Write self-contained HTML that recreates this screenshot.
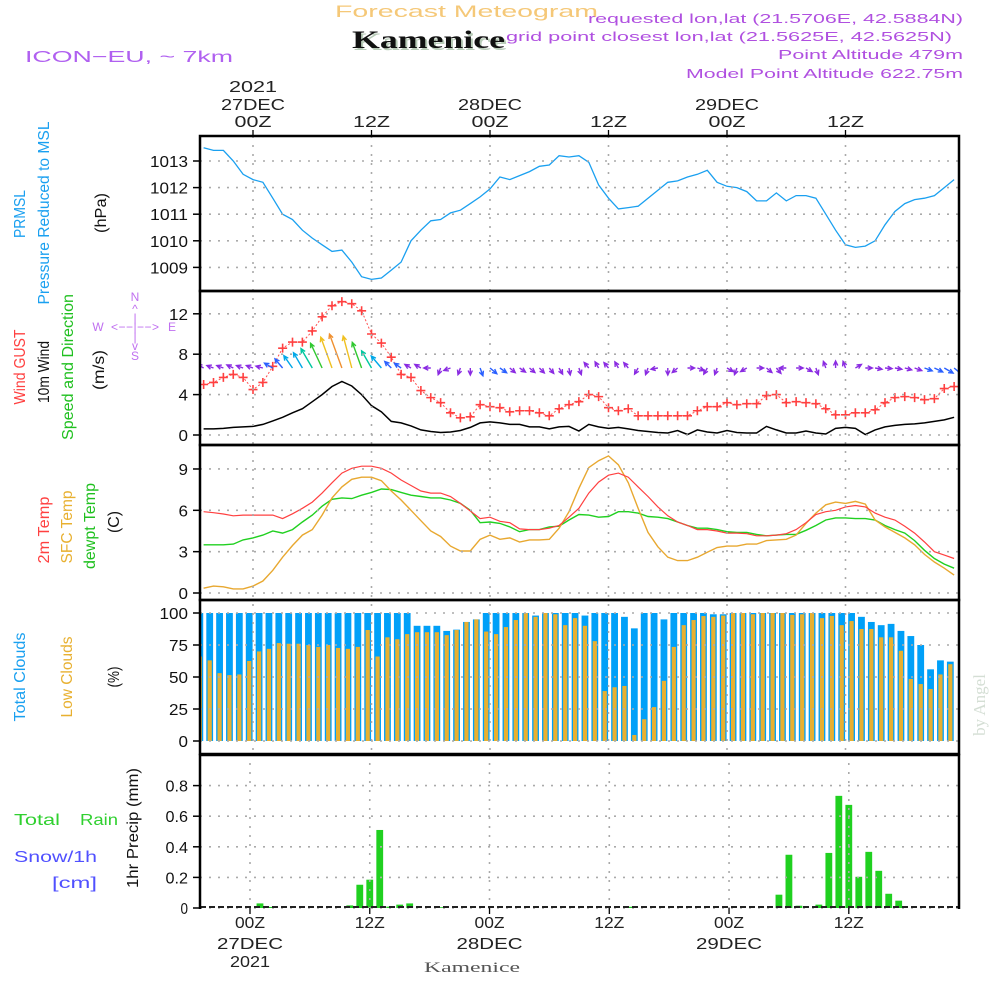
<!DOCTYPE html>
<html><head><meta charset="utf-8"><title>Forecast Meteogram Kamenice</title>
<style>
html,body{margin:0;padding:0;background:#fff;}
svg{display:block;font-family:"Liberation Sans",sans-serif;}
</style></head>
<body>
<svg id="chart" xmlns="http://www.w3.org/2000/svg" width="1000" height="1000" viewBox="0 0 1000 1000">
<rect x="0" y="0" width="1000" height="1000" fill="#fff"/>
<defs>
<clipPath id="clipMain"><rect x="200" y="136" width="759" height="618"/></clipPath>
<clipPath id="clipPrecip"><rect x="200" y="754" width="759" height="155"/></clipPath>
</defs>
<text x="335" y="17" font-size="17" fill="#f5c878" textLength="263" lengthAdjust="spacingAndGlyphs">Forecast Meteogram</text>
<text x="354" y="50" font-size="25" font-weight="bold" font-family="Liberation Serif, serif" fill="#b8ccb8" textLength="153" lengthAdjust="spacingAndGlyphs">Kamenice</text>
<text x="352" y="48" font-size="25" font-weight="bold" font-family="Liberation Serif, serif" fill="#111" textLength="153" lengthAdjust="spacingAndGlyphs">Kamenice</text>
<text x="25" y="62" font-size="16" fill="#b060f0" textLength="208" lengthAdjust="spacingAndGlyphs">ICON−EU, ~ 7km</text>
<g font-size="13" fill="#b050e0" text-anchor="end">
<text x="963" y="23" textLength="375" lengthAdjust="spacingAndGlyphs">requested lon,lat (21.5706E, 42.5884N)</text>
<text x="952" y="41" textLength="446" lengthAdjust="spacingAndGlyphs">grid point closest lon,lat (21.5625E, 42.5625N)</text>
<text x="963" y="59" textLength="185" lengthAdjust="spacingAndGlyphs">Point Altitude 479m</text>
<text x="963" y="78" textLength="277" lengthAdjust="spacingAndGlyphs">Model Point Altitude 622.75m</text>
</g>
<g font-size="16" text-anchor="middle">
<text transform="translate(25,214) rotate(-90)" fill="#1aa0f0" textLength="48" lengthAdjust="spacingAndGlyphs">PRMSL</text>
<text transform="translate(49,213) rotate(-90)" fill="#1aa0f0" textLength="183" lengthAdjust="spacingAndGlyphs">Pressure Reduced to MSL</text>
<text transform="translate(106,213) rotate(-90)" fill="#111" textLength="40" lengthAdjust="spacingAndGlyphs">(hPa)</text>
<text transform="translate(25,367) rotate(-90)" fill="#ff4040" textLength="75" lengthAdjust="spacingAndGlyphs">Wind GUST</text>
<text transform="translate(49,372) rotate(-90)" fill="#111" textLength="62" lengthAdjust="spacingAndGlyphs">10m Wind</text>
<text transform="translate(73,367) rotate(-90)" fill="#20c020" textLength="146" lengthAdjust="spacingAndGlyphs">Speed and Direction</text>
<text transform="translate(104,370) rotate(-90)" fill="#111" textLength="40" lengthAdjust="spacingAndGlyphs">(m/s)</text>
<text transform="translate(49,530) rotate(-90)" fill="#ff4040" textLength="67" lengthAdjust="spacingAndGlyphs">2m Temp</text>
<text transform="translate(72,527) rotate(-90)" fill="#e8b030" textLength="73" lengthAdjust="spacingAndGlyphs">SFC Temp</text>
<text transform="translate(95,526) rotate(-90)" fill="#20c020" textLength="86" lengthAdjust="spacingAndGlyphs">dewpt Temp</text>
<text transform="translate(119,522) rotate(-90)" fill="#111" textLength="22" lengthAdjust="spacingAndGlyphs">(C)</text>
<text transform="translate(25,677) rotate(-90)" fill="#1aa0f0" textLength="89" lengthAdjust="spacingAndGlyphs">Total Clouds</text>
<text transform="translate(72,677) rotate(-90)" fill="#e8b030" textLength="81" lengthAdjust="spacingAndGlyphs">Low Clouds</text>
<text transform="translate(119,677) rotate(-90)" fill="#111" textLength="21" lengthAdjust="spacingAndGlyphs">(%)</text>
<text transform="translate(138,828) rotate(-90)" fill="#111" textLength="120" lengthAdjust="spacingAndGlyphs">1hr Precip (mm)</text>
</g>
<g font-size="16">
<text x="14" y="825" fill="#30d030" textLength="46" lengthAdjust="spacingAndGlyphs">Total</text>
<text x="80" y="825" fill="#30d030" textLength="38" lengthAdjust="spacingAndGlyphs">Rain</text>
<text x="14" y="862" fill="#5050ff" textLength="83" lengthAdjust="spacingAndGlyphs">Snow/1h</text>
<text x="52" y="888" fill="#5050ff" textLength="45" lengthAdjust="spacingAndGlyphs">[cm]</text>
</g>
<g font-size="12" fill="#c070f0" text-anchor="middle">
<text x="135" y="301">N</text>
<text x="135" y="313">^</text>
<text x="135" y="322">|</text>
<text x="98" y="331">W</text>
<text x="135" y="331" textLength="48" lengthAdjust="spacing">&lt;−−|−−&gt;</text>
<text x="172" y="331">E</text>
<text x="135" y="341">|</text>
<text x="135" y="350">v</text>
<text x="135" y="360">S</text>
</g>
<text x="472" y="972" font-size="15" text-anchor="middle" font-family="Liberation Serif, serif" fill="#555" textLength="96" lengthAdjust="spacingAndGlyphs">Kamenice</text>
<text transform="translate(985,705) rotate(-90)" font-size="17" text-anchor="middle" font-family="Liberation Serif, serif" fill="#d4ded4">by Angel</text>
<g id="plot"></g>
</svg>
<script>
const hours = [-5,-4,-3,-2,-1,0,1,2,3,4,5,6,7,8,9,10,11,12,13,14,15,16,17,18,19,20,21,22,23,24,25,26,27,28,29,30,31,32,33,34,35,36,37,38,39,40,41,42,43,44,45,46,47,48,49,50,51,52,53,54,55,56,57,58,59,60,61,62,63,64,65,66,67,68,69,70,71];
const pressure = [1013.5,1013.4,1013.4,1013.0,1012.5,1012.3,1012.2,1011.6,1011.0,1010.8,1010.4,1010.1,1009.85,1009.6,1009.65,1009.2,1008.65,1008.55,1008.6,1008.9,1009.2,1010.0,1010.4,1010.75,1010.8,1011.05,1011.15,1011.4,1011.65,1011.95,1012.4,1012.3,1012.45,1012.6,1012.8,1012.85,1013.2,1013.15,1013.2,1012.95,1012.1,1011.6,1011.2,1011.25,1011.3,1011.6,1011.9,1012.2,1012.25,1012.4,1012.5,1012.65,1012.2,1012.05,1012.0,1011.85,1011.5,1011.5,1011.8,1011.5,1011.7,1011.7,1011.6,1011.0,1010.4,1009.85,1009.75,1009.8,1010.0,1010.6,1011.1,1011.4,1011.55,1011.6,1011.7,1012.0,1012.3];
const gust = [5.0,5.2,5.7,6.0,5.7,4.5,5.2,6.8,8.6,9.2,9.2,10.3,11.7,12.8,13.2,13.0,12.3,10.0,9.1,7.7,6.0,5.7,4.4,3.7,3.2,2.2,1.7,1.8,3.0,2.8,2.7,2.3,2.4,2.4,2.2,1.9,2.6,3.0,3.3,4.0,3.8,2.7,2.4,2.6,1.9,1.9,1.9,1.9,1.9,1.9,2.4,2.8,2.8,3.2,3.0,3.1,3.1,3.9,4.0,3.2,3.3,3.2,3.1,2.6,2.0,2.0,2.2,2.2,2.5,3.2,3.7,3.8,3.7,3.5,3.6,4.6,4.8];
const wind10 = [0.6,0.6,0.65,0.75,0.8,0.85,1.05,1.4,1.75,2.2,2.6,3.3,4.0,4.8,5.3,4.85,4.0,2.9,2.3,1.35,1.2,0.9,0.5,0.35,0.25,0.3,0.45,0.75,1.2,1.3,1.2,1.05,1.05,0.8,0.8,0.6,0.8,0.85,0.4,1.05,0.8,0.65,0.75,0.6,0.45,0.35,0.25,0.2,0.45,0.05,0.5,0.3,0.2,0.45,0.25,0.2,0.2,0.85,0.5,0.2,0.2,0.4,0.2,0.1,0.65,0.75,0.65,0.05,0.5,0.8,0.95,1.05,1.1,1.2,1.35,1.5,1.75];
const windDir = [300,290,290,295,290,290,285,300,320,325,330,330,335,340,340,345,340,330,320,315,305,300,300,270,200,250,200,180,160,130,125,130,125,130,135,140,150,170,160,320,330,320,330,320,210,200,260,180,230,90,110,210,200,120,200,240,90,130,140,270,90,120,160,340,0,340,60,90,100,95,100,105,110,110,115,120,130];
const temp2m = [5.9,5.83,5.73,5.6,5.65,5.65,5.65,5.65,5.4,5.75,6.15,6.6,7.25,8.0,8.7,9.05,9.2,9.2,9.05,8.7,8.2,7.8,7.4,7.25,7.25,7.0,6.5,5.95,5.4,5.5,5.2,5.1,4.65,4.6,4.6,4.7,4.9,5.5,6.15,7.25,8.05,8.55,8.7,8.4,7.7,7.0,6.25,5.6,5.15,4.9,4.6,4.6,4.5,4.35,4.35,4.3,4.15,4.15,4.2,4.3,4.6,5.1,5.7,5.9,6.0,6.25,6.35,6.25,5.8,5.5,5.3,4.85,4.35,3.7,3.0,2.75,2.5];
const sfcTemp = [0.35,0.5,0.45,0.3,0.3,0.5,0.87,1.65,2.6,3.45,4.2,4.6,5.65,6.9,7.7,8.25,8.4,8.4,8.15,7.4,6.75,6.0,5.25,4.5,4.1,3.4,3.05,3.05,3.9,4.2,3.9,4.0,3.7,3.85,3.85,3.9,4.7,5.9,7.6,9.1,9.6,9.95,9.3,8.0,6.15,4.4,3.35,2.6,2.35,2.35,2.6,2.95,3.3,3.4,3.4,3.55,3.55,3.8,3.85,3.9,4.2,5.05,5.8,6.4,6.6,6.5,6.65,6.45,5.3,4.8,4.4,4.0,3.5,2.8,2.25,1.8,1.3];
const dewpt = [3.5,3.5,3.5,3.55,3.85,4.0,4.2,4.5,4.35,4.6,5.15,5.65,6.3,6.8,6.9,6.85,7.1,7.3,7.55,7.5,7.3,7.1,7.0,6.9,6.9,6.75,6.5,6.0,5.1,5.15,5.05,4.8,4.45,4.6,4.6,4.8,4.85,5.3,5.7,5.65,5.5,5.55,5.9,5.9,5.8,5.55,5.5,5.4,5.15,4.9,4.7,4.7,4.6,4.45,4.4,4.4,4.25,4.15,4.2,4.25,4.25,4.55,4.9,5.3,5.45,5.45,5.4,5.4,5.3,4.9,4.6,4.35,3.8,3.1,2.5,2.1,1.8];
const totalCloud = [100,100,100,100,100,100,100,100,100,100,100,100,100,100,100,100,100,100,100,100,100,100,90,90,90,86,87,93,95,100,100,100,100,100,98,100,100,100,100,98,100,100,100,97,88,100,100,95,100,100,100,100,99,99,100,100,100,100,100,100,100,100,100,100,100,100,100,97,93,90.5,91.5,86,82,75,56,63,62];
const lowCloud = [66,63,53,51.5,52,62.5,70,72,76.5,76,76,75,73.5,75,72.7,72,73.5,86.7,66,81,79.5,83.5,85,85,85,82.7,86.7,93,95,85.5,83.5,89,94.5,100,97,100,99,90.5,96,90,78,39,42,43,4.7,17,26.5,47,73.5,90.5,94.5,97.6,97,98,100,100,99,100,100,100,98.5,99,100,96,97.7,90.5,93.7,87.5,87.5,81,81,70.5,48.5,44.5,40.6,52,60];
const precip = [0,0,0,0,0,0,0.03,0.007,0,0,0,0,0,0,0,0.017,0.152,0.185,0.51,0.009,0.022,0.03,0,0,0.005,0,0,0,0,0,0,0,0,0,0,0,0,0,0,0,0,0,0,0.008,0,0,0,0,0,0,0,0,0,0,0,0,0,0,0.087,0.348,0.015,0,0.022,0.36,0.733,0.674,0.204,0.367,0.243,0.093,0.048,0,0,0,0,0,0];
const pTicks = [1009,1010,1011,1012,1013];
const wTicks = [0,4,8,12];
const tTicks = [0,3,6,9];
const cTicks = [0,25,50,75,100];
const rTicks = [0,0.2,0.4,0.6,0.8];
const rTickLabels = ["0","0.2","0.4","0.6","0.8"];
const gridHours = [0,12,24,36,48,60];
const topLabelsTime = ["00Z","12Z","00Z","12Z","00Z","12Z"];
const topLabelsDate = ["27DEC","","28DEC","","29DEC",""];

const xm = h => 253 + 9.875*h;
const xp = h => 250 + 9.98*h;
const yP = v => 161 + (1013 - v)*26.6;
const yW = v => 435 - v*10.1;
const yT = v => 593 - v*13.78;
const yC = v => 741 - v*1.28;
const yR = v => 908 - v*153;

const NS = "http://www.w3.org/2000/svg";
const plot = document.getElementById('plot');
function mk(tag, attrs, parent){
  const e = document.createElementNS(NS, tag);
  for (const k in attrs) e.setAttribute(k, attrs[k]);
  (parent||plot).appendChild(e);
  return e;
}
function txt(str, attrs, parent){ const e = mk('text', attrs, parent); e.textContent = str; return e; }

const gMain = mk('g', {'clip-path':'url(#clipMain)'});


const gPrec = mk('g', {'clip-path':'url(#clipPrecip)'});



const GRID = {stroke:'#aaa','stroke-width':1.6,'stroke-dasharray':'2,7',fill:'none'};
function hgrid(y, x1, x2, name){
  const l = mk('line', Object.assign({x1:x1, x2:x2, y1:y, y2:y}, GRID));
  
  
}
gridHours.forEach(h => {
  const l = mk('line', Object.assign({x1:xm(h), x2:xm(h), y1:136, y2:754}, GRID));
  
  
  const l2 = mk('line', Object.assign({x1:xp(h), x2:xp(h), y1:754, y2:908}, GRID));
  
  
});

function yAxis(ticks, labels, yf, name, tl){
  ticks.forEach((v,i) => {
    const y = yf(v);
    hgrid(y, 200, 959, name + '-gridline');
    const t = mk('line', {x1:193, x2:200, y1:y, y2:y, stroke:'#000','stroke-width':1.5});
    
    
    const lab = labels ? labels[i] : String(v);
    const tx = txt(lab, {x:188, y:y+6, 'font-size':16, 'text-anchor':'end', fill:'#111', textLength: tl*lab.length, lengthAdjust:'spacingAndGlyphs'});
    
    
  });
}
yAxis(pTicks, null, yP, 'pressure-axis', 9.5);
yAxis(wTicks, null, yW, 'wind-axis', 9.5);
yAxis(tTicks, null, yT, 'temp-axis', 9.5);
yAxis(cTicks, null, yC, 'cloud-axis', 9.5);
yAxis(rTicks, rTickLabels, yR, 'precip-axis', 7.5);

hours.forEach((h,i) => {
  const b = mk('rect', {x:xm(h)-7.2, y:yC(totalCloud[i]), width:6.8, height:yC(0)-yC(totalCloud[i]), fill:'#00a0f8'}, gMain);
  
  
  const b2 = mk('rect', {x:xm(h)-5.9, y:yC(lowCloud[i]), width:4.2, height:yC(0)-yC(lowCloud[i]), fill:'#e8b030'}, gMain);
  
  
});

function line(arr, yf, color, name, w, dash){
  const pts = hours.map((h,i) => xm(h).toFixed(1) + ',' + yf(arr[i]).toFixed(1)).join(' ');
  const p = mk('polyline', {points:pts, fill:'none', stroke:color, 'stroke-width':w||1.3, 'stroke-dasharray':dash||'none'}, gMain);
  
  
}
line(pressure, yP, '#1aa0f0', 'pressure-line');
line(wind10, yW, '#000', 'wind-10m-line', 1.5);
line(gust, yW, '#ff5050', 'wind-gust-line', 1, '2,2');
hours.forEach((h,i) => {
  const x = xm(h), y = yW(gust[i]);
  const m = mk('path', {d:`M${x-4.5},${y}H${x+4.5}M${x},${y-4.5}V${y+4.5}`, stroke:'#ff4040','stroke-width':1.6}, gMain);
  
  
});
line(dewpt, yT, '#20d020', 'dewpoint-line', 1.4);
line(sfcTemp, yT, '#e8a830', 'sfc-temp-line', 1.4);
line(temp2m, yT, '#ff4040', 'temp-2m-line', 1.2);

function wcol(s){
  if (s < 1.2) return '#8a2be2';
  if (s < 2.0) return '#2a60ff';
  if (s < 2.8) return '#00a8e8';
  if (s < 3.5) return '#00c8a0';
  if (s < 4.2) return '#30c830';
  if (s < 4.6) return '#b0d020';
  if (s < 5.0) return '#f0c020';
  return '#f09030';
}
hours.forEach((h,i) => {
  const s = wind10[i], b = windDir[i]*Math.PI/180;
  const L = Math.max(7, 6.8*s);
  const x0 = xm(h), y0 = 368;
  const x1 = x0 + L*Math.sin(b), y1 = y0 - L*Math.cos(b);
  const hl = 5, a = 0.45;
  const hx1 = x1 - hl*Math.sin(b - a), hy1 = y1 + hl*Math.cos(b - a);
  const hx2 = x1 - hl*Math.sin(b + a), hy2 = y1 + hl*Math.cos(b + a);
  const ar = mk('path', {d:`M${x0.toFixed(1)},${y0}L${x1.toFixed(1)},${y1.toFixed(1)}M${hx1.toFixed(1)},${hy1.toFixed(1)}L${x1.toFixed(1)},${y1.toFixed(1)}L${hx2.toFixed(1)},${hy2.toFixed(1)}`, stroke:wcol(s), 'stroke-width':1.4, fill:'none'}, gMain);
  
  
});

hours.forEach((h,i) => {
  if (precip[i] <= 0) return;
  const r = mk('rect', {x:xp(h)-3.4, y:yR(precip[i]), width:6.8, height:yR(0)-yR(precip[i]), fill:'#20d020'}, gPrec);
  
  
});
const zl = mk('line', {x1:200, x2:959, y1:907, y2:907, stroke:'#222','stroke-width':2,'stroke-dasharray':'6,3'});



[[136,291,'pressure-panel-frame'],[291,445,'wind-panel-frame'],[445,600,'temp-panel-frame'],[600,754,'cloud-panel-frame']].forEach(p => {
  const r = mk('rect', {x:200, y:p[0], width:759, height:p[1]-p[0], fill:'none', stroke:'#000','stroke-width':2.5});
  
  
});
const pf = mk('path', {d:'M200,909V755H959V909', fill:'none', stroke:'#000','stroke-width':2.5});



gridHours.forEach((h,i) => {
  const tk = mk('line', {x1:xm(h), x2:xm(h), y1:130, y2:136, stroke:'#000','stroke-width':1.3});
  
  
  const t = txt(topLabelsTime[i], {x:xm(h), y:127, 'font-size':16, 'text-anchor':'middle', fill:'#222', textLength:37, lengthAdjust:'spacingAndGlyphs'});
  
  
  if (topLabelsDate[i]) {
    const d = txt(topLabelsDate[i], {x:xm(h), y:110, 'font-size':16, 'text-anchor':'middle', fill:'#222', textLength:64, lengthAdjust:'spacingAndGlyphs'});
    
    
  }
  const bt = mk('line', {x1:xp(h), x2:xp(h), y1:908, y2:914, stroke:'#000','stroke-width':1.3});
  
  
  const b = txt(topLabelsTime[i], {x:xp(h), y:928, 'font-size':16, 'text-anchor':'middle', fill:'#222', textLength:30, lengthAdjust:'spacingAndGlyphs'});
  
  
  if (topLabelsDate[i]) {
    const bd = txt(topLabelsDate[i], {x:xp(h), y:949, 'font-size':16, 'text-anchor':'middle', fill:'#222', textLength:66, lengthAdjust:'spacingAndGlyphs'});
    
    
  }
});
const yr = txt('2021', {x:xm(0), y:92, 'font-size':16, 'text-anchor':'middle', fill:'#222', textLength:48, lengthAdjust:'spacingAndGlyphs'});


const yr2 = txt('2021', {x:xp(0), y:967, 'font-size':16, 'text-anchor':'middle', fill:'#222', textLength:40, lengthAdjust:'spacingAndGlyphs'});


</script>
</body></html>
